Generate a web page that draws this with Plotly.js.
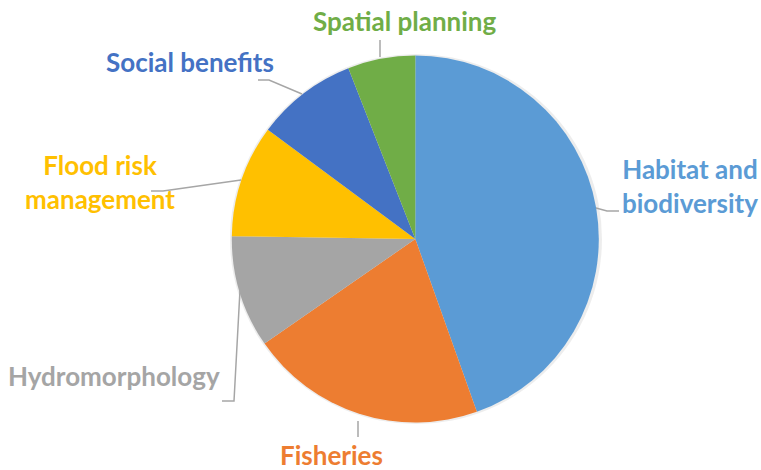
<!DOCTYPE html>
<html>
<head>
<meta charset="utf-8">
<script src="https://cdn.plot.ly/plotly-3.0.1.min.js"></script>
<style>html,body{margin:0;padding:0;background:#fff;}#chart{width:761px;height:470px;}</style>
</head>
<body>
<div id="chart"></div>
<script>
// Data
const categories = ["Habitat and biodiversity", "Fisheries", "Hydromorphology", "Flood risk management", "Social benefits", "Spatial planning"];
const values = [45, 21, 10, 10, 9, 6];
const colors = ["#5B9BD5", "#ED7D31", "#A5A5A5", "#FFC000", "#4472C4", "#70AD47"];
const labelTexts = ["Habitat and<br>biodiversity", "Fisheries", "Hydromorphology", "Flood risk<br>management", "Social benefits", "Spatial planning"];

const W = 761, H = 470;
const px = x => x / W;
const py = y => 1 - y / H;

// label positions (pixel centers) and leader lines
const labelPos = [[690, 186], [331, 455], [114, 376], [100, 182], [190, 62], [405, 21]];
const leaders = [
  [[596, 208], [607, 211], [619, 211]],
  [[358, 421], [358, 437]],
  [[240, 290], [234, 401], [222, 401]],
  [[241, 180], [163, 191], [151, 191]],
  [[302, 94], [269, 80], [258, 80]],
  [[380, 57], [380, 40]]
];

const annotations = labelTexts.map((t, i) => ({
  text: "<b>" + t + "</b>",
  x: px(labelPos[i][0]), y: py(labelPos[i][1]),
  xref: "paper", yref: "paper",
  xanchor: "center", yanchor: "middle",
  showarrow: false,
  borderpad: 0, borderwidth: 0,
  font: {family: "Lato, 'Open Sans', sans-serif", size: 26, color: colors[i]},
  align: "center"
}));

const shapes = leaders.map(pts => ({
  type: "path",
  xref: "paper", yref: "paper",
  path: pts.map((p, j) => (j ? "L" : "M") + px(p[0]) + "," + py(p[1])).join(" "),
  line: {color: "#A6A6A6", width: 1.5}
}));
// soft shadow under pie
shapes.unshift({
  type: "circle", xref: "paper", yref: "paper", layer: "below",
  x0: px(230), x1: px(602), y0: py(424), y1: py(54),
  fillcolor: "rgba(0,0,0,0.07)", line: {width: 0}
});

const trace = {
  type: "pie",
  labels: categories,
  values: values,
  marker: {colors: colors, line: {width: 0}},
  sort: false,
  direction: "clockwise",
  rotation: 0,
  textinfo: "none",
  hoverinfo: "label+value",
  domain: {x: [px(231.8), px(598.8)], y: [py(422.5), py(55.5)]}
};

Plotly.newPlot("chart", [trace], {
  width: W, height: H,
  margin: {l: 0, r: 0, t: 0, b: 0},
  showlegend: false,
  paper_bgcolor: "#fff",
  annotations: annotations,
  shapes: shapes
}, {displayModeBar: false, staticPlot: true});
</script>
</body>
</html>
